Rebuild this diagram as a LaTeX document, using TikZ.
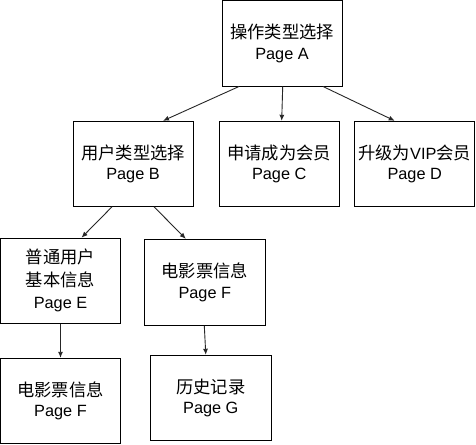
\documentclass[tikz,border=0pt]{standalone}
\usepackage{fontspec}
\setmainfont{Liberation Sans}
\newfontfamily\cjk[Scale=1.06]{Noto Sans CJK SC}
\usetikzlibrary{arrows.meta}
\tikzset{
  box/.style={draw=black, line width=1pt, fill=white, rectangle, inner sep=0pt,
    align=center, font=\fontsize{16.3}{20.5}\selectfont, text=black},
  arr/.style={draw=black!85, line width=0.9pt, -{Latex[length=6pt,width=5pt]}}
}
\begin{document}
\begin{tikzpicture}[x=1pt,y=-1pt]
\useasboundingbox[fill=white] (0,0) rectangle (476,444);
\node[box, minimum width=120pt, minimum height=85pt] (A) at (282,43.5) {{\cjk 操作类型选择}\\Page A};
\node[box, minimum width=120pt, minimum height=85pt] (B) at (133,163.8) {{\cjk 用户类型选择}\\Page B};
\node[box, minimum width=120pt, minimum height=85pt] (C) at (279.2,163.8) {{\cjk 申请成为会员}\\Page C};
\node[box, minimum width=120.5pt, minimum height=85pt] (D) at (414.7,163.8) {{\cjk 升级为}VIP{\cjk 会员}\\Page D};
\node[box, minimum width=120pt, minimum height=85pt, font=\fontsize{16.3}{22.5}\selectfont] (E) at (60.5,280.7) {{\cjk 普通用户}\\{\cjk 基本信息}\\Page E};
\node[box, minimum width=121pt, minimum height=86pt] (F1) at (204.8,282.3) {{\cjk 电影票信息}\\Page F};
\node[box, minimum width=120pt, minimum height=85pt] (F2) at (60.5,400.8) {{\cjk 电影票信息}\\Page F};
\node[box, minimum width=121pt, minimum height=85pt] (G) at (210.8,397.8) {{\cjk 历史记录}\\Page G};
\draw[arr] ([xshift=-43pt]A.south) -- ([xshift=30pt]B.north);
\draw[arr] ([xshift=0.7pt]A.south) -- ([xshift=2.5pt]C.north);
\draw[arr] ([xshift=41pt]A.south) -- ([xshift=-20pt]D.north);
\draw[arr] ([xshift=-21pt]B.south) -- ([xshift=21pt]E.north);
\draw[arr] ([xshift=21pt]B.south) -- ([xshift=-19pt]F1.north);
\draw[arr] (E.south) -- (F2.north);
\draw[arr] ([xshift=-0.5pt]F1.south) -- ([xshift=-5pt]G.north);
\end{tikzpicture}
\end{document}
